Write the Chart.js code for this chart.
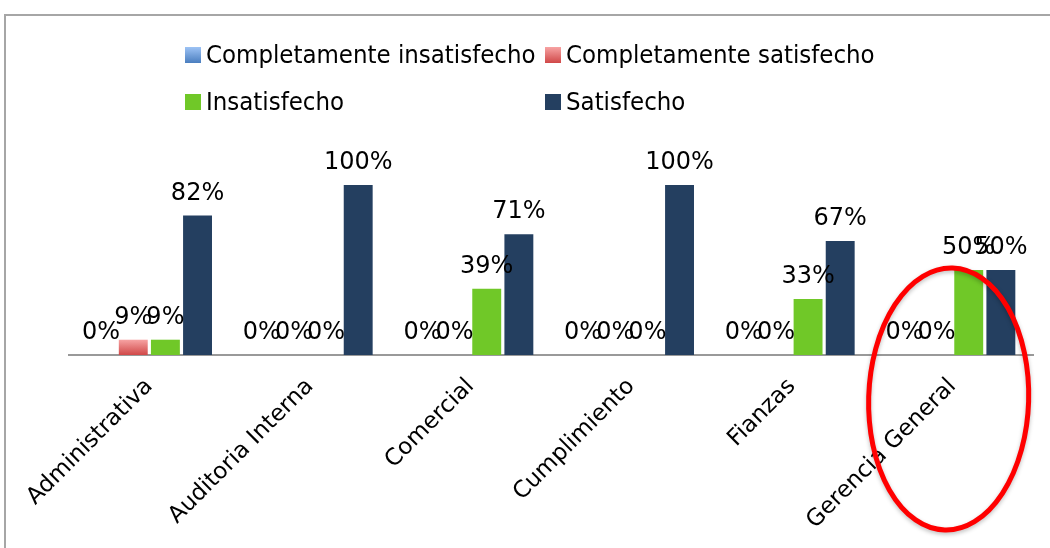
<!DOCTYPE html>
<html>
<head>
<meta charset="utf-8">
<script src="https://cdn.jsdelivr.net/npm/chart.js@4/dist/chart.umd.min.js"></script>
<style>
  body { margin: 0; background: #fff; }
  #wrap { position: relative; width: 1050px; height: 548px; overflow: hidden; }
  #frame { position: absolute; left: 4px; top: 14px; width: 1100px; height: 600px; border: 2px solid #a6a6a6; }
  canvas { position: absolute; left: 0; top: 0; }
</style>
</head>
<body>
<div id="wrap">
  <div id="frame"></div>
  <canvas id="chart" width="1050" height="548"></canvas>
</div>
<script>
const categories = ['Administrativa', 'Auditoria Interna', 'Comercial', 'Cumplimiento', 'Fianzas', 'Gerencia General']
const completamenteInsatisfecho = [0, 0, 0, 0, 0, 0]
const completamenteSatisfecho = [9, 0, 0, 0, 0, 0]
const insatisfecho = [9, 0, 39, 0, 33, 50]
const satisfecho = [82, 100, 71, 100, 67, 50]
const seriesNames = ['Completamente insatisfecho', 'Completamente satisfecho', 'Insatisfecho', 'Satisfecho']

const labelFont = '"DejaVu Sans", Verdana, sans-serif'
const legendFont = '"DejaVu Sans Condensed", "Liberation Sans Narrow", "DejaVu Sans", sans-serif'

function gradientFill(top, bottom) {
  return function (context) {
    const chart = context.chart
    const y = chart.scales.y
    if (!y || context.raw == null) return bottom
    const y0 = y.getPixelForValue(context.raw)
    const y1 = y.getPixelForValue(0)
    if (!isFinite(y0) || !isFinite(y1) || y1 - y0 < 1) return bottom
    const g = chart.ctx.createLinearGradient(0, y0, 0, y1)
    g.addColorStop(0, top)
    g.addColorStop(1, bottom)
    return g
  }
}

const swatches = [
  ['#9dc3f5', '#4a7ebf'],
  ['#f7a3a3', '#d04848'],
  ['#70c828', '#70c828'],
  ['#243f60', '#243f60']
]

// legend drawn as a 2x2 grid like the original
const gridLegend = {
  id: 'gridLegend',
  afterDraw(chart) {
    const ctx = chart.ctx
    const cols = [185, 545]
    const rows = [55, 102]
    ctx.save()
    ctx.font = '25.5px ' + legendFont
    ctx.textBaseline = 'middle'
    ctx.fillStyle = '#000'
    seriesNames.forEach((name, i) => {
      const x = cols[i % 2]
      const y = rows[Math.floor(i / 2)]
      const g = ctx.createLinearGradient(0, y - 8, 0, y + 8)
      g.addColorStop(0, swatches[i][0])
      g.addColorStop(1, swatches[i][1])
      ctx.fillStyle = g
      ctx.fillRect(x, y - 8, 16, 16)
      ctx.fillStyle = '#000'
      ctx.fillText(name, x + 21, y + 1)
    })
    ctx.restore()
  }
}

const valueLabels = {
  id: 'valueLabels',
  afterDatasetsDraw(chart) {
    const ctx = chart.ctx
    ctx.save()
    ctx.font = '24px ' + labelFont
    ctx.textAlign = 'center'
    ctx.textBaseline = 'alphabetic'
    ctx.fillStyle = '#000'
    chart.data.datasets.forEach((ds, i) => {
      chart.getDatasetMeta(i).data.forEach((bar, j) => {
        ctx.fillText(ds.data[j] + '%', bar.x, bar.y - 16)
      })
    })
    ctx.restore()
  }
}

const circleMark = {
  id: 'circleMark',
  afterDraw(chart) {
    const ctx = chart.ctx
    const cx = chart.scales.x.getPixelForValue(5) - 4
    const cy = chart.chartArea.bottom + 44
    ctx.save()
    ctx.shadowColor = 'rgba(0,0,0,0.25)'
    ctx.shadowBlur = 4
    ctx.shadowOffsetY = 2
    ctx.strokeStyle = '#ff0000'
    ctx.lineWidth = 5
    ctx.beginPath()
    ctx.ellipse(cx, cy, 80, 131, 0.03, 0, Math.PI * 2)
    ctx.stroke()
    ctx.restore()
  }
}

const ctx = document.getElementById('chart').getContext('2d')
const chart = new Chart(ctx, {
  type: 'bar',
  data: {
    labels: categories,
    datasets: [
      { label: seriesNames[0], data: completamenteInsatisfecho, backgroundColor: gradientFill(swatches[0][0], swatches[0][1]) },
      { label: seriesNames[1], data: completamenteSatisfecho, backgroundColor: gradientFill(swatches[1][0], swatches[1][1]) },
      { label: seriesNames[2], data: insatisfecho, backgroundColor: swatches[2][0] },
      { label: seriesNames[3], data: satisfecho, backgroundColor: swatches[3][0] }
    ]
  },
  options: {
    responsive: false,
    animation: false,
    layout: { padding: { top: 151, left: 69, right: 17, bottom: 0 } },
    plugins: {
      legend: { display: false },
      tooltip: { enabled: false }
    },
    scales: {
      y: { display: false, min: 0, max: 120 },
      x: {
        grid: { display: false, drawTicks: false },
        border: { display: true, color: '#999', width: 2 },
        ticks: {
          color: '#000',
          font: { family: labelFont, size: 23 },
          minRotation: 45,
          maxRotation: 45,
          padding: 18
        },
        afterFit(scale) {
          scale.height = 193
          scale.paddingLeft = 0
          scale.paddingRight = 0
        }
      }
    }
  },
  plugins: [gridLegend, valueLabels, circleMark]
})
</script>
</body>
</html>
